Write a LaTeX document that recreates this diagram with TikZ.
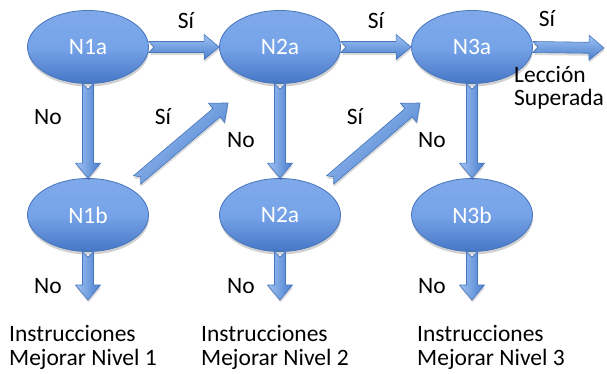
\documentclass[tikz,border=0pt]{standalone}
\usepackage{fontspec}
\setmainfont{Carlito}
\usetikzlibrary{shapes.geometric,calc,shadows}
\definecolor{elltop}{HTML}{7FA9EA}
\definecolor{ellmid}{HTML}{76A3E8}
\definecolor{ellbot}{HTML}{4677C6}
\definecolor{elledge}{HTML}{4675BD}
\definecolor{alight}{HTML}{A0C4F4}
\definecolor{adark}{HTML}{487CCB}
\newcommand\bashaft{5.5pt}
\newcommand\bahead{12.5pt}
\newcommand\balen{15pt}
\newcommand\banotch{5pt}
% block arrow from #2 to #3, options #1
\newcommand\blockarrow[3][]{%
  \coordinate (ba-s) at (#2);
  \coordinate (ba-e) at (#3);
  \coordinate (ba-b) at ($(ba-e)!\balen!(ba-s)$);
  \coordinate (ba-n) at ($(ba-s)!\banotch!(ba-e)$);
  \path[arrowbody,#1] (ba-n)
    -- ($(ba-s)!\bashaft!90:(ba-e)$)
    -- ($(ba-b)!\bashaft!90:(ba-e)$)
    -- ($(ba-b)!\bahead!90:(ba-e)$)
    -- (ba-e)
    -- ($(ba-b)!\bahead!-90:(ba-e)$)
    -- ($(ba-b)!\bashaft!-90:(ba-e)$)
    -- ($(ba-s)!\bashaft!-90:(ba-e)$)
    -- cycle;}
\tikzset{
  lvl/.style={ellipse, minimum width=121pt, minimum height=73pt, inner sep=0pt,
    draw=elledge, line width=0.8pt, top color=elltop, bottom color=ellbot, middle color=ellmid,
    text=white, font=\fontsize{23.5}{26}\selectfont,
    drop shadow={shadow xshift=0.5pt, shadow yshift=-3pt, opacity=0.18, fill=black}},
  arrowbody/.style={draw=elledge, line width=0.6pt,
    drop shadow={shadow xshift=0.5pt, shadow yshift=-2.5pt, opacity=0.15, fill=black}},
  hsh/.style={top color=alight, bottom color=adark},
  vsh/.style={left color=alight, right color=adark},
  dsh/.style={top color=alight, bottom color=adark, shading angle=45},
  lbl/.style={font=\fontsize{23.5}{26}\selectfont, inner sep=0pt, anchor=base},
  txt/.style={font=\fontsize{23.5}{23.8}\selectfont, inner sep=0pt, anchor=base west, align=left}
}
\begin{document}
\begin{tikzpicture}[x=1pt, y=-1pt]
\useasboundingbox (0,0) rectangle (607,374);
% levels
\node[lvl] (n1a) at (88,47) {N1a};
\node[lvl] (n2a) at (280,47) {N2a};
\node[lvl] (n3a) at (472,47) {N3a};
\node[lvl] (n1b) at (88,215) {N1b};
\node[lvl] (n2b) at (280,215) {N2a};
\node[lvl] (n3b) at (472,215) {N3b};
% free ends
\coordinate (exit) at (604,48);
\coordinate (d1s) at (137,180);
\coordinate (d1e) at (228,103);
\coordinate (d2s) at (330,180);
\coordinate (d2e) at (420,103);
\coordinate (b1) at (88,300);
\coordinate (b2) at (280,300);
\coordinate (b3) at (472,300);
% arrows
\blockarrow[hsh]{n1a.east}{n2a.west}
\blockarrow[hsh]{n2a.east}{n3a.west}
\blockarrow[hsh]{n3a.east}{exit}
\blockarrow[vsh]{n1a.south}{n1b.north}
\blockarrow[vsh]{n2a.south}{n2b.north}
\blockarrow[vsh]{n3a.south}{n3b.north}
\blockarrow[dsh]{d1s}{d1e}
\blockarrow[dsh]{d2s}{d2e}
\blockarrow[vsh]{n1b.south}{b1}
\blockarrow[vsh]{n2b.south}{b2}
\blockarrow[vsh]{n3b.south}{b3}
% labels
\node[lbl] (s1) at (186,29) {Sí};
\node[lbl] (s2) at (376,29) {Sí};
\node[lbl] (s3) at (547,27) {Sí};
\node[lbl] (s4) at (163,125) {Sí};
\node[lbl] (s5) at (355,125) {Sí};
\node[lbl] (no1) at (48,125) {No};
\node[lbl] (no2) at (241,148) {No};
\node[lbl] (no3) at (432,148) {No};
\node[lbl] (no4) at (48,293) {No};
\node[lbl] (no5) at (241,293) {No};
\node[lbl] (no6) at (432,293) {No};
\node[txt] (ok) at (514,106) {Lección\\Superada};
\node[txt] (i1) at (9,365) {Instrucciones\\Mejorar Nivel 1};
\node[txt] (i2) at (201,365) {Instrucciones\\Mejorar Nivel 2};
\node[txt] (i3) at (417,365) {Instrucciones\\Mejorar Nivel 3};
\end{tikzpicture}
\end{document}
